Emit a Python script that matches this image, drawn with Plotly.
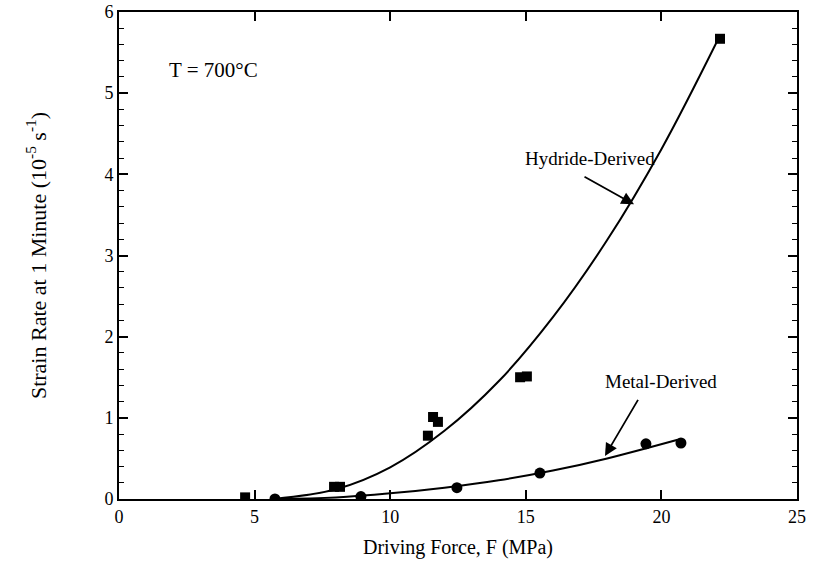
import plotly.graph_objects as go

# Measured creep data at 700 °C
hydride_force = [4.65, 7.93, 8.15, 11.39, 11.58, 11.76, 14.79, 15.04, 22.16]
hydride_rate = [0.02, 0.15, 0.15, 0.78, 1.01, 0.95, 1.50, 1.51, 5.67]

metal_force = [5.75, 8.92, 12.46, 15.52, 19.43, 20.72]
metal_rate = [0.0, 0.03, 0.14, 0.32, 0.68, 0.69]

# Fitted trend curves (knots, drawn as smooth splines)
hydride_fit_force = [5.7, 8.0, 10.0, 12.0, 14.0, 16.0, 18.0, 20.0, 22.1]
hydride_fit_rate = [0.0, 0.12, 0.39, 0.84, 1.45, 2.24, 3.19, 4.31, 5.67]

metal_fit_force = [5.7, 8.0, 10.0, 12.0, 14.0, 16.0, 18.0, 20.6]
metal_fit_rate = [0.0, 0.02, 0.07, 0.14, 0.23, 0.35, 0.50, 0.73]

FONT = "Liberation Serif, Times New Roman, serif"

fig = go.Figure()

fig.add_trace(go.Scatter(
    x=hydride_fit_force, y=hydride_fit_rate, mode="lines",
    line=dict(color="black", width=2, shape="spline", smoothing=1.0),
    showlegend=False, hoverinfo="skip"))
fig.add_trace(go.Scatter(
    x=metal_fit_force, y=metal_fit_rate, mode="lines",
    line=dict(color="black", width=2, shape="spline", smoothing=1.0),
    showlegend=False, hoverinfo="skip"))

fig.add_trace(go.Scatter(
    x=hydride_force, y=hydride_rate, mode="markers", name="Hydride-Derived",
    marker=dict(symbol="square", size=10, color="black"),
    showlegend=False))
fig.add_trace(go.Scatter(
    x=metal_force, y=metal_rate, mode="markers", name="Metal-Derived",
    marker=dict(symbol="circle", size=11, color="black"),
    showlegend=False))

annotations = [
    dict(x=3.47, y=5.28, xref="x", yref="y", text="T = 700°C", showarrow=False,
         font=dict(family=FONT, size=21, color="black")),
    dict(x=17.37, y=4.2, xref="x", yref="y", text="Hydride-Derived", showarrow=False,
         font=dict(family=FONT, size=19, color="black")),
    dict(x=19.99, y=1.45, xref="x", yref="y", text="Metal-Derived", showarrow=False,
         font=dict(family=FONT, size=19, color="black")),
    # arrows pointing at each fit curve
    dict(x=18.99, y=3.63, ax=17.11, ay=3.98, xref="x", yref="y", axref="x", ayref="y",
         text="", showarrow=True, arrowhead=2, arrowsize=1.4, arrowwidth=1.8,
         arrowcolor="black"),
    dict(x=17.92, y=0.53, ax=19.17, ay=1.24, xref="x", yref="y", axref="x", ayref="y",
         text="", showarrow=True, arrowhead=2, arrowsize=1.4, arrowwidth=1.8,
         arrowcolor="black"),
]

fig.update_layout(
    width=816, height=582,
    margin=dict(l=119, r=19, t=12, b=83),
    paper_bgcolor="white", plot_bgcolor="white",
    font=dict(family=FONT, size=18, color="black"),
    annotations=annotations,
    showlegend=False,
)

fig.update_xaxes(
    range=[0, 25], tickmode="linear", tick0=0, dtick=5,
    ticks="inside", ticklen=9, tickwidth=1.5, tickcolor="black",
    showline=True, linewidth=2, linecolor="black", mirror="ticks",
    showgrid=False, zeroline=False, automargin=False,
    tickfont=dict(family=FONT, size=18),
    title=dict(text="Driving Force, F (MPa)", font=dict(family=FONT, size=20), standoff=14),
)
fig.update_yaxes(
    range=[0, 6], tickmode="linear", tick0=0, dtick=1,
    ticks="inside", ticklen=9, tickwidth=1.5, tickcolor="black",
    minor=dict(ticks="inside", ticklen=5, tickwidth=1.2, tickcolor="black", dtick=0.2),
    showline=True, linewidth=2, linecolor="black", mirror="ticks",
    showgrid=False, zeroline=False, automargin=False,
    tickfont=dict(family=FONT, size=18),
    title=dict(text="Strain Rate at 1 Minute (10<sup>-5</sup> s<sup>-1</sup>)",
               font=dict(family=FONT, size=22), standoff=52),
)

fig.write_html("out.html")
